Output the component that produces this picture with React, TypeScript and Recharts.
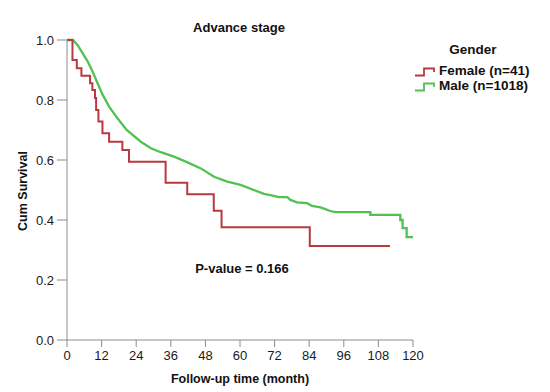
import { CartesianGrid, Line, LineChart, XAxis, YAxis } from 'recharts';

// Kaplan-Meier estimates (months, cumulative survival)
const femaleMonths = [0, 1.9, 3.4, 5.0, 8.0, 8.8, 9.7, 10.1, 10.9, 12.3, 14.6, 19.2, 21.5, 34.2, 41.7, 50.9, 53.6, 84.2, 112];
const femaleSurv = [1.0, 0.933, 0.906, 0.881, 0.856, 0.833, 0.807, 0.767, 0.728, 0.689, 0.661, 0.633, 0.594, 0.524, 0.486, 0.431, 0.376, 0.313, 0.313];

const maleMonths = [0, 2.0, 3.7, 5.4, 7.2, 8.9, 10.6, 12.4, 14.6, 17.5, 20.7, 25.6, 29.1, 32.5, 37.1, 41.8, 46.4, 51.0, 55.6, 60.2, 64.8, 68.3, 70.6, 73.4, 76.4, 77.5, 79.8, 83.3, 85.0, 87.9, 89.6, 91.3, 93.1, 105.2, 105.2, 115.6, 115.6, 116.4, 116.4, 117.8, 117.8, 120];
const maleSurv = [1.0, 1.0, 0.983, 0.956, 0.928, 0.894, 0.856, 0.817, 0.778, 0.739, 0.7, 0.661, 0.639, 0.626, 0.611, 0.592, 0.572, 0.544, 0.528, 0.517, 0.5, 0.487, 0.483, 0.476, 0.476, 0.467, 0.459, 0.456, 0.447, 0.442, 0.436, 0.43, 0.426, 0.426, 0.417, 0.417, 0.4, 0.4, 0.373, 0.373, 0.343, 0.343];

const xTicks = [0, 12, 24, 36, 48, 60, 72, 84, 96, 108, 120];
const yTicks = [0, 0.2, 0.4, 0.6, 0.8, 1.0];

const seriesNames = ['Female (n=41)', 'Male (n=1018)'];
const colors = ['#b8393f', '#52c152'];

const font = '"Liberation Sans", Arial, sans-serif';

const female = femaleMonths.map((t, i) => ({ t, s: femaleSurv[i] }));
const male = maleMonths.map((t, i) => ({ t, s: maleSurv[i] }));

function Glyph({ color }: { color: string }) {
  return (
    <svg width={22} height={10} style={{ position: 'absolute', left: 2, top: -5 }}>
      <path d="M0,8.5 H9 V1.5 H19 V5" fill="none" stroke={color} strokeWidth={1.8} />
    </svg>
  );
}

export default function App() {
  return (
    <div style={{ position: 'absolute', left: 0, top: 0, width: 550, height: 392, background: '#fff' }}>
      <LineChart width={550} height={392} margin={{ top: 40, right: 137, bottom: 22, left: 20 }}>
        <CartesianGrid stroke="none" />
        <XAxis
          type="number"
          dataKey="t"
          domain={[0, 120]}
          ticks={xTicks}
          interval={0}
          height={30}
          tickSize={7}
          tickMargin={4}
          stroke="#8c8c8c"
          tick={{ fill: '#1a1a1a', fontSize: 13, fontFamily: font }}
          allowDuplicatedCategory={false}
        />
        <YAxis
          type="number"
          dataKey="s"
          domain={[0, 1]}
          ticks={yTicks}
          interval={0}
          width={47}
          tickSize={10}
          tickMargin={3}
          stroke="#8c8c8c"
          tickFormatter={(v: number) => v.toFixed(1)}
          tick={{ fill: '#1a1a1a', fontSize: 13, fontFamily: font }}
        />
        <Line data={male} dataKey="s" type="linear" stroke={colors[1]} strokeWidth={2.3} dot={false} isAnimationActive={false} />
        <Line data={female} dataKey="s" type="stepAfter" stroke={colors[0]} strokeWidth={2} dot={false} isAnimationActive={false} />
        <text x={239} y={32} textAnchor="middle" fontFamily={font} fontSize={13} fontWeight="bold" fill="#111">
          Advance stage
        </text>
        <text x={240} y={383} textAnchor="middle" fontFamily={font} fontSize={12.5} fontWeight="bold" fill="#111">
          Follow-up time (month)
        </text>
        <text x={27} y={191} textAnchor="middle" fontFamily={font} fontSize={12.5} fontWeight="bold" fill="#111" transform="rotate(-90 27 191)">
          Cum Survival
        </text>
        <text x={242} y={273} textAnchor="middle" fontFamily={font} fontSize={13} fontWeight="bold" fill="#111">
          P-value = 0.166
        </text>
      </LineChart>
      <div style={{ position: 'absolute', left: 413, top: 40, width: 137, height: 60, fontFamily: font, fontSize: 13.5, color: '#111' }}>
        <div style={{ position: 'absolute', left: 0, width: 120, top: 2, textAlign: 'center', fontWeight: 'bold' }}>Gender</div>
        {seriesNames.map((name, i) => (
          <div key={name} style={{ position: 'absolute', left: 0, top: 31.5 + i * 15 }}>
            <Glyph color={colors[i]} />
            <span style={{ position: 'absolute', left: 26, top: -8.5, whiteSpace: 'nowrap', lineHeight: '16px', fontWeight: 'bold' }}>{name}</span>
          </div>
        ))}
      </div>
    </div>
  );
}
